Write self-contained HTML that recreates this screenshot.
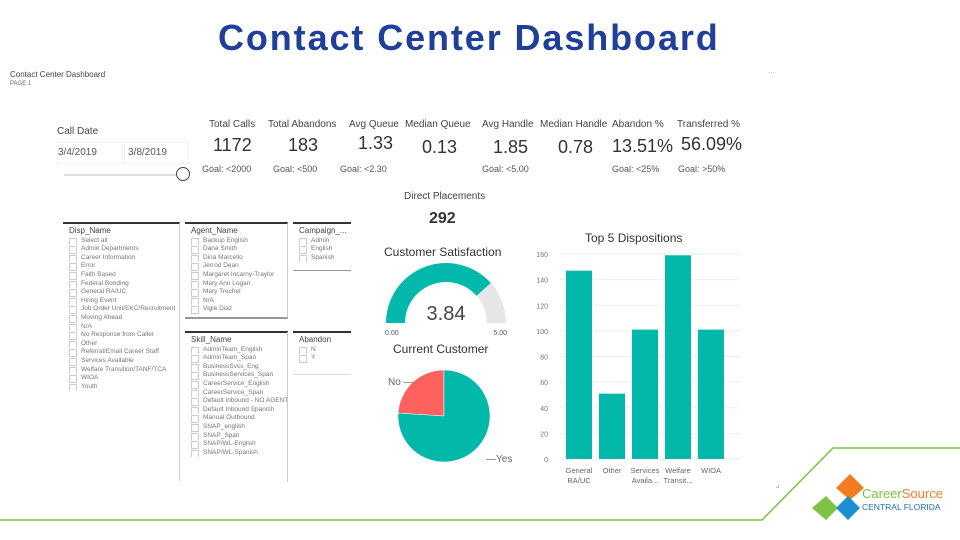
<!DOCTYPE html>
<html><head><meta charset="utf-8"><style>
body{margin:0;width:960px;height:540px;background:#fff;overflow:hidden;position:relative;font-family:"Liberation Sans",sans-serif;}
.a{position:absolute;white-space:nowrap}
.k{font-size:10px;color:#444}
.v{font-size:18px;color:#333}
.g{font-size:9px;color:#555}
.sl{position:absolute;border-top:2px solid #333;font-size:6.5px;color:#777;line-height:8.6px;overflow:hidden;box-sizing:border-box}
.sl div{padding-left:18px;position:relative;white-space:nowrap;overflow:hidden}
.sl div:before{content:"";position:absolute;left:6px;top:1px;width:6px;height:6px;border:1px solid #ccc}
.sl .h{font-size:8px;color:#444;padding-left:6px;margin:3px 0 1px}
.sl .h:before{display:none}
</style></head><body>
<div class="a" style="left:218px;top:17px;font-size:36px;font-weight:bold;color:#1f3f99;letter-spacing:1.9px">Contact Center Dashboard</div>
<div class="a" style="left:10px;top:70px;font-size:8px;color:#444">Contact Center Dashboard</div>
<div class="a" style="left:10px;top:81px;font-size:6px;color:#666">PAGE 1</div>
<div class="a" style="left:768px;top:66px;font-size:8px;color:#aaa">...</div>

<div class="a k" style="left:57px;top:126px">Call Date</div>
<div class="a" style="left:57px;top:142px;width:64px;height:20px;border:1px solid #f2f2f2;font-size:10px;color:#555;line-height:20px">3/4/2019</div>
<div class="a" style="left:124px;top:142px;width:60px;height:20px;border:1px solid #f2f2f2;font-size:10px;color:#555;line-height:20px;padding-left:3px">3/8/2019</div>
<div class="a" style="left:64px;top:174px;width:112px;height:2px;background:#ddd"></div>
<div class="a" style="left:176px;top:167px;width:12px;height:12px;border:1.5px solid #444;border-radius:50%;background:#fff"></div>

<div><div class="a k" style="left:209px;top:119px">Total Calls</div><div class="a v" style="left:213px;top:135px">1172</div><div class="a g" style="left:202px;top:164px">Goal: &lt;2000</div></div>
<div><div class="a k" style="left:268px;top:119px">Total Abandons</div><div class="a v" style="left:288px;top:135px">183</div><div class="a g" style="left:273px;top:164px">Goal: &lt;500</div></div>
<div><div class="a k" style="left:349px;top:119px">Avg Queue</div><div class="a v" style="left:358px;top:133px">1.33</div><div class="a g" style="left:340px;top:164px">Goal: &lt;2.30</div></div>
<div><div class="a k" style="left:405px;top:119px">Median Queue</div><div class="a v" style="left:422px;top:137px">0.13</div></div>
<div><div class="a k" style="left:482px;top:119px">Avg Handle</div><div class="a v" style="left:493px;top:137px">1.85</div><div class="a g" style="left:482px;top:164px">Goal: &lt;5.00</div></div>
<div><div class="a k" style="left:540px;top:119px">Median Handle</div><div class="a v" style="left:558px;top:137px">0.78</div></div>
<div><div class="a k" style="left:612px;top:119px">Abandon %</div><div class="a v" style="left:612px;top:136px">13.51%</div><div class="a g" style="left:612px;top:164px">Goal: &lt;25%</div></div>
<div><div class="a k" style="left:677px;top:119px">Transferred %</div><div class="a v" style="left:681px;top:134px">56.09%</div><div class="a g" style="left:678px;top:164px">Goal: &gt;50%</div></div>
<div><div class="a k" style="left:404px;top:191px">Direct Placements</div><div class="a" style="left:429px;top:210px;font-size:16px;font-weight:bold;color:#333">292</div></div>

<div class="sl" style="left:63px;top:222px;width:117px;height:259px;border-right:1px solid #ccc">
<div class="h">Disp_Name</div><div>Select all</div><div>Admin Departments</div><div>Career Information</div><div>Error</div><div>Faith Based</div><div>Federal Bonding</div><div>General RA/UC</div><div>Hiring Event</div><div>Job Order Unit/EKC/Recruitment</div><div>Moving Ahead</div><div>N/A</div><div>No Response from Caller</div><div>Other</div><div>Referral/Email Career Staff</div><div>Services Available</div><div>Welfare Transition/TANF/TCA</div><div>WIOA</div><div>Youth</div></div>
<div class="sl" style="left:185px;top:222px;width:103px;height:97px;border-bottom:2px solid #999;border-right:1px solid #ccc">
<div class="h">Agent_Name</div><div>Backup English</div><div>Dana Smith</div><div>Dina Marcello</div><div>Jerrod Dean</div><div>Margaret Incarny-Traylor</div><div>Mary Ann Logan</div><div>Mary Trechel</div><div>N/A</div><div>Vigie Diaz</div></div>
<div class="sl" style="left:293px;top:222px;width:58px;height:49px;border-bottom:1px solid #999">
<div class="h">Campaign_...</div><div>Admin</div><div>English</div><div>Spanish</div></div>
<div class="sl" style="left:185px;top:331px;width:103px;height:151px;border-right:1px solid #ccc">
<div class="h">Skill_Name</div><div>AdminTeam_English</div><div>AdminTeam_Span</div><div>BusinessSvcs_Eng</div><div>BusinessServices_Span</div><div>CareerService_English</div><div>CareerService_Span</div><div>Default Inbound - NO AGENTS</div><div>Default Inbound Spanish</div><div>Manual Outbound</div><div>SNAP_english</div><div>SNAP_Span</div><div>SNAP/WL-English</div><div>SNAP/WL-Spanish</div></div>
<div class="sl" style="left:293px;top:331px;width:58px;height:44px;border-bottom:1px solid #ddd">
<div class="h">Abandon</div><div>N</div><div>Y</div></div>

<svg class="a" style="left:0;top:0" width="960" height="540">
<g id="gauge"></g>
<g id="pie"></g>
<g id="bars"></g>
<polyline points="0,520 762,520 833,448 960,448" fill="none" stroke="#7dc242" stroke-width="1.5"/>
<g>
<polygon points="850,474 864,488 850,500 836,488" fill="#f47b20"/>
<polygon points="826,496 838,508 826,520 812,508" fill="#7dc242"/>
<polygon points="848,496 860,508 848,520 836,508" fill="#1b8fd2"/>
</g>
<text x="862" y="498" font-size="13" fill="#7dc242" font-family="Liberation Sans">Career<tspan fill="#f47b20">Source</tspan></text>
<text x="862" y="510" font-size="8.5" fill="#1b6fb2" font-family="Liberation Sans">CENTRAL FLORIDA</text>
</svg>
<div class="a" style="left:384px;top:245px;font-size:12px;color:#333">Customer Satisfaction</div>
<div class="a" style="left:393px;top:342px;font-size:12px;color:#333">Current Customer</div>
<div class="a" style="left:585px;top:231px;font-size:12px;color:#333">Top 5 Dispositions</div>
<script>
const NS="http://www.w3.org/2000/svg";
function mk(p,t,a){const e=document.createElementNS(NS,t);for(const k in a)e.setAttribute(k,a[k]);p.appendChild(e);return e;}
// gauge
const gaugeValue=3.84, gaugeMin=0, gaugeMax=5;
// pie
const pieLabels=["No","Yes"]; const pieValues=[24,76];
// bars
const barCategories=[["General","RA/UC"],["Other",""],["Services","Availa..."],["Welfare","Transit..."],["WIOA",""]];
const barValues=[147,51,101,159,101];
const yTicks=[0,20,40,60,80,100,120,140,160];

(function(){
const g=document.getElementById('gauge');const cx=446,cy=323,R=60,r=41;
function arc(a0,a1,col,name){const p=(ang,rad)=>[cx-rad*Math.cos(ang),cy-rad*Math.sin(ang)];
const [x0,y0]=p(a0,R),[x1,y1]=p(a1,R),[x2,y2]=p(a1,r),[x3,y3]=p(a0,r);
const e=mk(g,'path',{d:`M${x0},${y0}A${R},${R} 0 0 1 ${x1},${y1}L${x2},${y2}A${r},${r} 0 0 0 ${x3},${y3}Z`,fill:col});

}
const f=(gaugeValue-gaugeMin)/(gaugeMax-gaugeMin);
arc(0,Math.PI,'#e6e6e6','gauge-track');arc(0,Math.PI*f,'#01b8aa','gauge-value-arc');
let t=mk(g,'text',{x:cx,y:cy-3,'text-anchor':'middle','font-size':20,fill:'#444','font-family':'Liberation Sans'});t.textContent=gaugeValue.toFixed(2);


t=mk(g,'text',{x:385,y:335,'font-size':7,fill:'#555','font-family':'Liberation Sans'});t.textContent=gaugeMin.toFixed(2);


t=mk(g,'text',{x:507,y:335,'text-anchor':'end','font-size':7,fill:'#555','font-family':'Liberation Sans'});t.textContent=gaugeMax.toFixed(2);


})();
(function(){
const g=document.getElementById('pie');const cx=444,cy=416,R=46;const tot=pieValues.reduce((a,b)=>a+b,0);
const cols=['#fd625e','#01b8aa'];
let start=-Math.PI/2-2*Math.PI*pieValues[0]/tot;
pieValues.forEach((v,i)=>{const a0=start,a1=start+2*Math.PI*v/tot;start=a1;
const large=(a1-a0)>Math.PI?1:0;
const e=mk(g,'path',{d:`M${cx},${cy}L${cx+R*Math.cos(a0)},${cy+R*Math.sin(a0)}A${R},${R} 0 ${large} 1 ${cx+R*Math.cos(a1)},${cy+R*Math.sin(a1)}Z`,fill:cols[i],stroke:'#fff','stroke-width':0.5});

});
let t=mk(g,'text',{x:388,y:385,'font-size':10,fill:'#666','font-family':'Liberation Sans'});t.textContent=pieLabels[0]+' —';


t=mk(g,'text',{x:486,y:462,'font-size':10,fill:'#666','font-family':'Liberation Sans'});t.textContent='—'+pieLabels[1];


})();
(function(){
const g=document.getElementById('bars');const x0=562,band=33,y0=459,yMax=160,h=205;
const y=v=>y0-v/yMax*h;
yTicks.forEach(v=>{const l=mk(g,'line',{x1:560,x2:740,y1:y(v),y2:y(v),stroke:'#eee'});


const t=mk(g,'text',{x:548,y:y(v)+3,'text-anchor':'end','font-size':7,fill:'#777','font-family':'Liberation Sans'});t.textContent=v;

});
barValues.forEach((v,i)=>{const b=mk(g,'rect',{x:x0+i*band+4,y:y(v),width:26,height:y0-y(v),fill:'#01b8aa'});


barCategories[i].forEach((s,j)=>{if(!s)return;const t=mk(g,'text',{x:x0+i*band+17,y:y0+14+j*10,'text-anchor':'middle','font-size':7.5,fill:'#666','font-family':'Liberation Sans'});t.textContent=s;

});});
const m=mk(g,'text',{x:776,y:487,'font-size':7,fill:'#666'});m.textContent='⌟';


})();
</script>
</body></html>
